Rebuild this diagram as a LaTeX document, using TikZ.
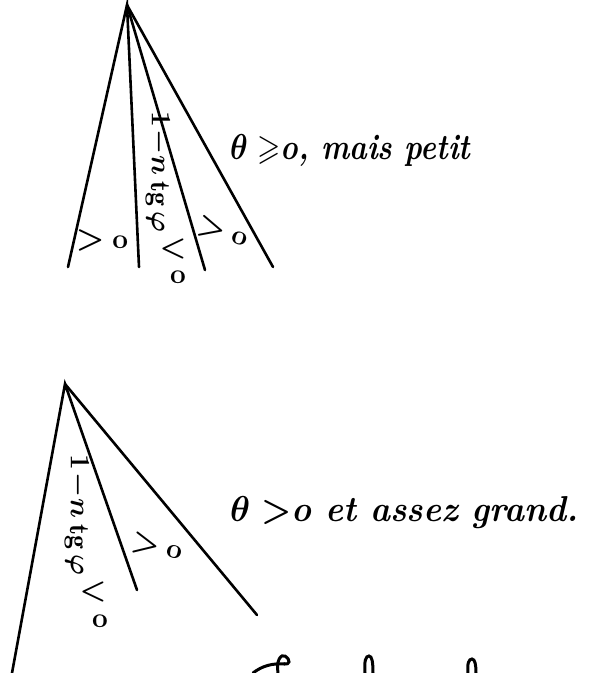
\documentclass[tikz,border=0pt]{standalone}
\usepackage{fix-cm}
\usepackage{amssymb}
\usepackage{fontspec}
\newcommand{\gtr}{{\fontsize{32}{34}\selectfont$>$}}
\newcommand{\lsr}{{\fontsize{30}{32}\selectfont$<$}}
\begin{document}
\begin{tikzpicture}[x=1pt,y=-1pt,
  stroke/.style={line width=2.6pt,line cap=round},
  hand/.style={font=\fontsize{36}{40}\selectfont\bfseries\itshape\boldmath,inner sep=0pt},
  lab/.style={font=\fontsize{28}{30}\selectfont\bfseries\boldmath,inner sep=0pt}]
\useasboundingbox (0,0) rectangle (592,673);
% top fan
\coordinate (A) at (127,5);
\coordinate (a1) at (68,267);
\coordinate (a2) at (139,267);
\coordinate (a3) at (205,270);
\coordinate (a4) at (273,267);
\draw[stroke] (a1) -- (A) -- (a2);
\draw[stroke] (A) -- (a3);
\draw[stroke] (A) -- (a4);
\node[lab] (t1) at (102,240) {\gtr\;o};
\node[lab,rotate=-15] (t2) at (223,232) {\gtr\;o};
\node[lab,rotate=-90] (t3) at (158,172) {$1\!-\!n\,\mathrm{tg}\,\varphi$};
\node[lab] (t4) at (173,249) {\lsr};
\node[lab] (t5) at (178,277) {o};
\node[hand,anchor=west,xscale=0.83] (txt1) at (230,150) {$\theta\geqslant$o, mais petit};
% bottom fan
\coordinate (B) at (65,384);
\coordinate (b1) at (12,673);
\coordinate (b2) at (137,590);
\coordinate (b3) at (257,615);
\draw[stroke] (b1) -- (B) -- (b2);
\draw[stroke] (B) -- (b3);
\node[lab,rotate=-12] (s1) at (157,547) {\gtr\;o};
\node[lab,rotate=-90] (s2) at (77,515) {$1\!-\!n\,\mathrm{tg}\,\varphi$};
\node[lab] (s3) at (93,592) {\lsr};
\node[lab] (s4) at (100,621) {o};
\node[hand,anchor=west,xscale=0.94] (txt2) at (230,513) {$\theta>$o et assez grand.};
% cut-off fragments of the next line
\draw[stroke,line width=3pt] (253,673) .. controls (262,666) and (272,663) .. (285,664);
\draw[stroke,line width=3pt] (278,673) .. controls (276,660) and (281,654) .. (285,656) .. controls (291,660) and (290,665) .. (284,664);
\draw[stroke,line width=3pt] (365,673) .. controls (364,660) and (366,656) .. (369,656) .. controls (372,656) and (373,662) .. (373,673);
\draw[stroke,line width=3pt] (468,673) .. controls (467,663) and (469,659) .. (472,659) .. controls (475,659) and (476,665) .. (476,673);
\end{tikzpicture}
\end{document}
